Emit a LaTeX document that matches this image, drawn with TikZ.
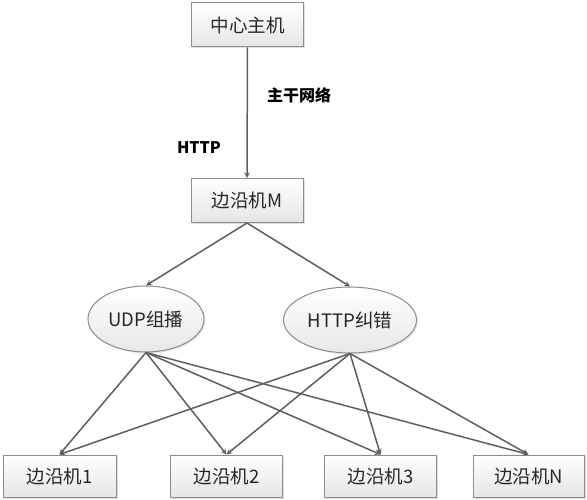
\documentclass[tikz,border=0pt]{standalone}
\usepackage{fontspec}
\setmainfont{Noto Sans CJK SC}[BoldFont={Noto Sans CJK SC Black}]
\usepackage{tikz}
\usetikzlibrary{arrows}
\usetikzlibrary{shapes.geometric}
\usetikzlibrary{shadows}

\definecolor{edgegray}{HTML}{5E5E5E}
\definecolor{framegray}{HTML}{8C8C8C}

\begin{document}
\begin{tikzpicture}[x=1pt, y=-1pt, >=stealth,
                    every edge/.style={draw=edgegray, line width=1.5pt},
                    hostbox/.style={draw=framegray, line width=1pt, rectangle,
                      top color=white, bottom color=black!10,
                      drop shadow={shadow xshift=1.5pt, shadow yshift=-1.5pt, opacity=0.25},
                      minimum width=112pt, minimum height=44pt,
                      font=\fontsize{18.5}{22}\selectfont, text=black!85},
                    protocell/.style={draw=framegray, line width=1pt, ellipse,
                      top color=white, bottom color=black!9,
                      drop shadow={shadow xshift=1.5pt, shadow yshift=-1.5pt, opacity=0.2},
                      minimum height=66pt, inner sep=0pt,
                      font=\fontsize{18.5}{22}\selectfont, text=black!85},
                    netlabel/.style={font=\bfseries\fontsize{16}{19}\selectfont}]

\useasboundingbox (0,0) rectangle (587,500);

\node[hostbox] (host) at (247.5,25) {中心主机};
\node[hostbox] (edgeM) at (247,200.5) {边沿机M};

\node[protocell, minimum width=116pt] (udp) at (146,319) {UDP组播};
\node[protocell, minimum width=133pt] (httpfix) at (350,320) {HTTP纠错};

\node[hostbox, minimum width=113pt, minimum height=42pt] (e1) at (59.5,476) {边沿机1};
\node[hostbox, minimum width=112pt, minimum height=42pt] (e2) at (226.5,476) {边沿机2};
\node[hostbox, minimum width=112pt, minimum height=42pt] (e3) at (380.5,476) {边沿机3};
\node[hostbox, minimum width=111pt, minimum height=42pt] (eN) at (528.5,476) {边沿机N};

\node[netlabel] (backbone) at (299,95) {主干网络};
\node[netlabel] (proto) at (199,148) {HTTP};

\path[->]
(host) edge (edgeM)
(edgeM.south) edge (udp.north)
(edgeM.south) edge (httpfix.north);

\foreach \src in {udp,httpfix}
  \foreach \dst in {e1,e2,e3,eN}
    \path[->] (\src.south) edge (\dst.north);
\end{tikzpicture}
\end{document}
